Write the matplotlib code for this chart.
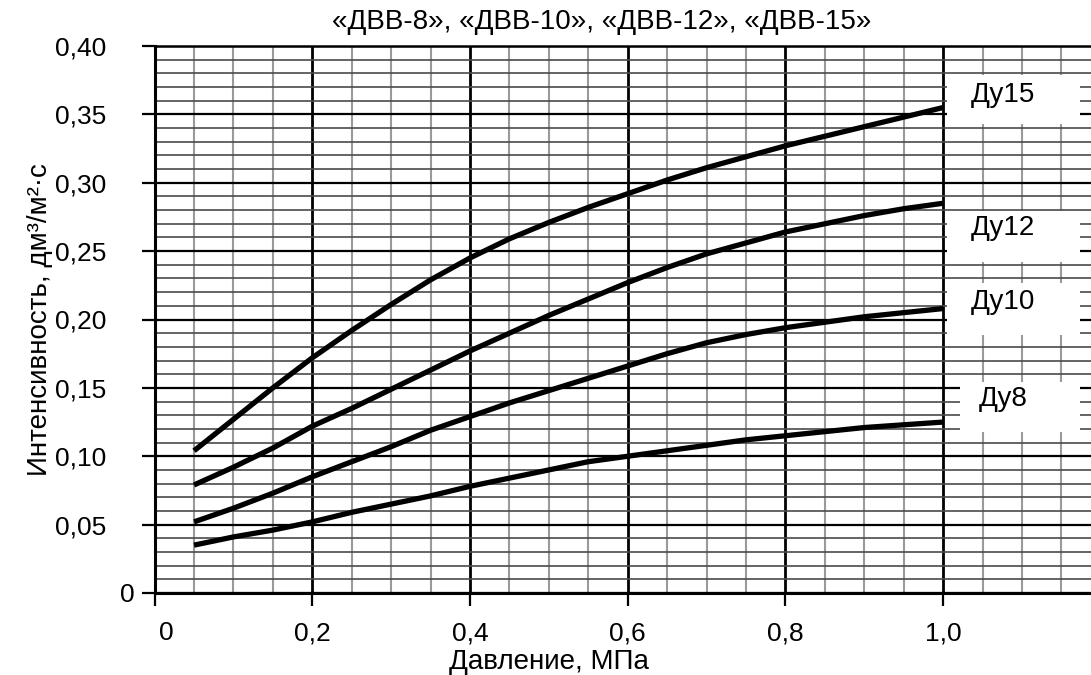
import numpy as np
import matplotlib
matplotlib.use("Agg")
import matplotlib.pyplot as plt
import matplotlib.transforms as mtransforms
from matplotlib.patches import Rectangle
from matplotlib.ticker import MultipleLocator

plt.rcParams['font.family'] = ['Liberation Sans', 'DejaVu Sans']

# pressure, MPa
pressure = [0.05, 0.10, 0.15, 0.20, 0.25, 0.30, 0.35, 0.40, 0.45, 0.50,
            0.55, 0.60, 0.65, 0.70, 0.75, 0.80, 0.85, 0.90, 0.95, 1.00]

# intensity, dm3/m2*s
du15 = [0.104, 0.127, 0.150, 0.172, 0.192, 0.211, 0.229, 0.245, 0.259, 0.271,
        0.282, 0.292, 0.302, 0.311, 0.319, 0.327, 0.334, 0.341, 0.348, 0.355]
du12 = [0.079, 0.092, 0.106, 0.122, 0.135, 0.149, 0.163, 0.177, 0.190, 0.203,
        0.215, 0.227, 0.238, 0.248, 0.256, 0.264, 0.270, 0.276, 0.281, 0.285]
du10 = [0.052, 0.062, 0.073, 0.085, 0.096, 0.107, 0.119, 0.129, 0.139, 0.148,
        0.157, 0.166, 0.175, 0.183, 0.189, 0.194, 0.198, 0.202, 0.205, 0.208]
du8 = [0.035, 0.041, 0.046, 0.052, 0.059, 0.065, 0.071, 0.078, 0.084, 0.090,
       0.096, 0.100, 0.104, 0.108, 0.112, 0.115, 0.118, 0.121, 0.123, 0.125]

series = [du15, du12, du10, du8]
names = ['Ду15', 'Ду12', 'Ду10', 'Ду8']

x_ticks = [0, 0.2, 0.4, 0.6, 0.8, 1.0]
x_ticklabels = ['0', '0,2', '0,4', '0,6', '0,8', '1,0']
y_ticks = [0, 0.05, 0.10, 0.15, 0.20, 0.25, 0.30, 0.35, 0.40]
y_ticklabels = ['0', '0,05', '0,10', '0,15', '0,20', '0,25', '0,30', '0,35', '0,40']

title = '«ДВВ-8», «ДВВ-10», «ДВВ-12», «ДВВ-15»'

# label boxes on the right: (x0, x1, y0, y1, text y) in data units
boxes = [(1.005, 1.174, 0.343, 0.379, 0.364),
         (1.005, 1.174, 0.242, 0.279, 0.267),
         (1.005, 1.174, 0.189, 0.227, 0.213),
         (1.022, 1.174, 0.118, 0.154, 0.1415)]

W, H = 1091, 675
fig = plt.figure(figsize=(W / 100, H / 100), dpi=100)
ax = fig.add_axes([154.6 / W, 82 / H, (W - 154.6) / W, 547 / H])

ax.set_xlim(0, (W - 154.6) / 788.5)
ax.set_ylim(0, 0.40)

# grid
ax.xaxis.set_major_locator(MultipleLocator(0.2))
ax.xaxis.set_minor_locator(MultipleLocator(0.05))
ax.yaxis.set_major_locator(MultipleLocator(0.05))
ax.yaxis.set_minor_locator(MultipleLocator(0.01))
ax.grid(which='minor', axis='x', color='#9a9a9a', lw=1.5)
ax.grid(which='minor', axis='y', color='#4a4a4a', lw=1.2)
ax.grid(which='major', axis='x', color='black', lw=2.0)
ax.grid(which='major', axis='y', color='black', lw=1.6)
ax.set_axisbelow(True)

ax.set_xticks(x_ticks)
ax.set_xticklabels(x_ticklabels)
ax.set_yticks(y_ticks)
ax.set_yticklabels(y_ticklabels)
ax.tick_params(which='minor', length=0)
ax.tick_params(which='major', direction='out', length=9.5, width=1.6, colors='black',
               labelsize=19)
ax.tick_params(axis='y', pad=25)
ax.tick_params(axis='x', pad=11)

ax.spines['right'].set_visible(False)
ax.spines['left'].set_linewidth(2.2)
ax.spines['bottom'].set_linewidth(2.2)
ax.spines['top'].set_linewidth(1.8)

# nudge the "0" labels like in the scan
lbl = ax.get_yticklabels()[0]
lbl.set_transform(lbl.get_transform() + mtransforms.ScaledTranslation(28 / 100, 0, fig.dpi_scale_trans))
lbl = ax.get_xticklabels()[0]
lbl.set_transform(lbl.get_transform() + mtransforms.ScaledTranslation(12 / 100, 0, fig.dpi_scale_trans))

for ys in series:
    ax.plot(pressure, ys, color='black', lw=3.8, solid_capstyle='butt', zorder=5)

for (x0, x1, y0, y1, ty), name in zip(boxes, names):
    ax.add_patch(Rectangle((x0, y0), x1 - x0, y1 - y0, facecolor='white',
                           edgecolor='none', zorder=4))
    ax.text(1.076, ty, name, ha='center', va='center', fontsize=20, zorder=6)

ax.set_xlabel('Давление, МПа', fontsize=20)
ax.xaxis.set_label_coords(0.5 / ax.get_xlim()[1], -0.102)
ax.set_ylabel('Интенсивность, дм³/м²·с', fontsize=20)
ax.yaxis.set_label_coords(-0.108, 0.5)

fig.text(602 / W, 1 - 22 / H, title, ha='center', va='center', fontsize=20)

fig.savefig('out.png', dpi=100)
